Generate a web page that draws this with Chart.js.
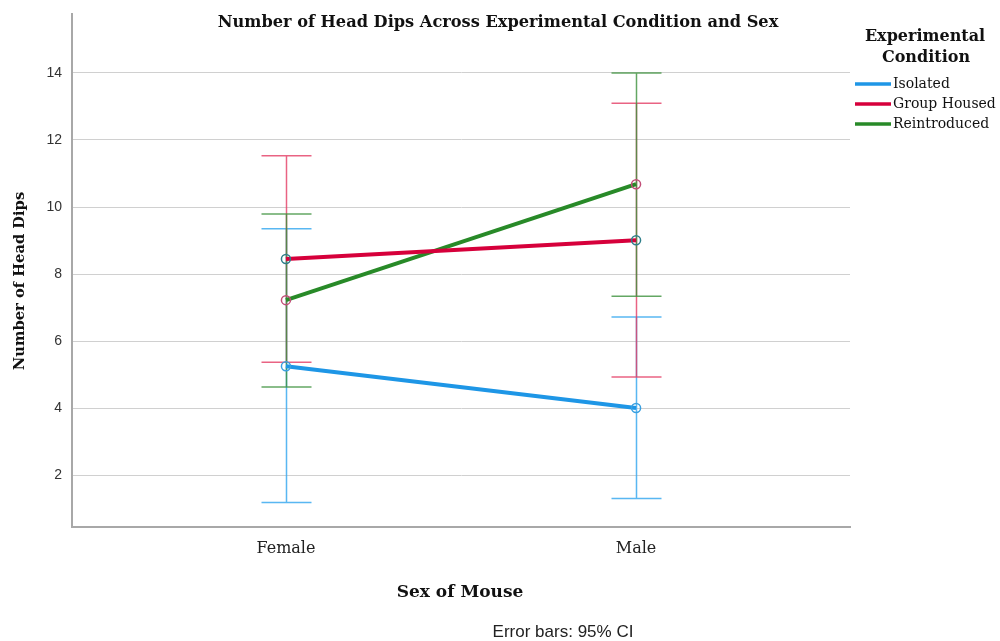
<!DOCTYPE html>
<html>
<head>
<meta charset="utf-8">
<script src="https://cdn.jsdelivr.net/npm/chart.js@4"></script>
<style>
html,body{margin:0;padding:0;background:#fff;}
canvas{display:block;}
</style>
</head>
<body>
<canvas id="c" width="1000" height="641"></canvas>
<script>
const categories = ['Female', 'Male'];
const seriesNames = ['Isolated', 'Group Housed', 'Reintroduced'];
const isolatedMean = [5.25, 4.0];
const isolatedLow = [1.18, 1.30];
const isolatedHigh = [9.35, 6.72];
const groupMean = [8.45, 9.01];
const groupLow = [5.37, 4.93];
const groupHigh = [11.53, 13.10];
const reintroMean = [7.22, 10.68];
const reintroLow = [4.63, 7.34];
const reintroHigh = [9.79, 14.0];
const yTicks = [2, 4, 6, 8, 10, 12, 14];

const lineColors = ['#1e96e6', '#d6003b', '#288a28'];
const barColors = ['rgba(60,170,240,0.85)', 'rgba(228,60,100,0.8)', 'rgba(60,145,60,0.8)'];
const markerColors = ['#3aa0e0', '#2f7f8a', '#c24e78'];

const means = [isolatedMean, groupMean, reintroMean];
const lows = [isolatedLow, groupLow, reintroLow];
const highs = [isolatedHigh, groupHigh, reintroHigh];

const datasets = seriesNames.map((name, s) => ({
  label: name,
  data: categories.map((c, i) => ({x: i, y: means[s][i]})),
  borderColor: lineColors[s],
  borderWidth: 4,
  pointRadius: 4.5,
  pointBorderWidth: 1.5,
  pointBorderColor: markerColors[s],
  pointBackgroundColor: 'rgba(255,255,255,0)',
  tension: 0,
  fill: false
}));

const errorBars = {
  id: 'errorBars',
  beforeDatasetsDraw(chart) {
    const ctx = chart.ctx, xs = chart.scales.x, ys = chart.scales.y;
    ctx.save();
    for (let s = 0; s < seriesNames.length; s++) {
      ctx.strokeStyle = barColors[s];
      ctx.lineWidth = 1.5;
      for (let i = 0; i < categories.length; i++) {
        const x = Math.round(xs.getPixelForValue(i)) + 0.5;
        const yl = ys.getPixelForValue(lows[s][i]);
        const yh = ys.getPixelForValue(highs[s][i]);
        ctx.beginPath();
        ctx.moveTo(x, yl); ctx.lineTo(x, yh);
        ctx.moveTo(x - 25, yl); ctx.lineTo(x + 25, yl);
        ctx.moveTo(x - 25, yh); ctx.lineTo(x + 25, yh);
        ctx.stroke();
      }
    }
    ctx.restore();
  }
};

const texts = {
  id: 'texts',
  afterDraw(chart) {
    const ctx = chart.ctx;
    ctx.save();
    ctx.fillStyle = '#111';
    ctx.textAlign = 'center';
    ctx.textBaseline = 'alphabetic';
    ctx.font = 'bold 16.2px "DejaVu Serif"';
    ctx.fillText('Number of Head Dips Across Experimental Condition and Sex', 498, 27);
    ctx.font = 'bold 17px "DejaVu Serif"';
    ctx.fillText('Sex of Mouse', 460, 597);
    ctx.save();
    ctx.translate(24, 281);
    ctx.rotate(-Math.PI / 2);
    ctx.font = 'bold 14.7px "DejaVu Serif"';
    ctx.fillText('Number of Head Dips', 0, 0);
    ctx.restore();
    ctx.font = 'bold 16px "DejaVu Serif"';
    ctx.fillText('Experimental', 925, 41);
    ctx.fillText('Condition', 926, 62);
    ctx.textAlign = 'left';
    ctx.textBaseline = 'middle';
    ctx.font = '14px "DejaVu Serif"';
    seriesNames.forEach((n, s) => {
      const y = 84 + s * 20;
      ctx.strokeStyle = lineColors[s];
      ctx.lineWidth = 3.5;
      ctx.beginPath();
      ctx.moveTo(855, y); ctx.lineTo(891, y);
      ctx.stroke();
      ctx.fillStyle = '#111';
      ctx.fillText(n, 893, y);
    });
    ctx.textAlign = 'center';
    ctx.textBaseline = 'alphabetic';
    ctx.font = '17px "Liberation Sans"';
    ctx.fillStyle = '#222';
    ctx.fillText('Error bars: 95% CI', 563, 637);
    ctx.restore();
  }
};

new Chart(document.getElementById('c'), {
  type: 'line',
  data: {datasets},
  options: {
    responsive: false,
    animation: false,
    layout: {padding: {top: 14, right: 150, bottom: 0, left: 0}},
    plugins: {legend: {display: false}, title: {display: false}, tooltip: {enabled: false}},
    scales: {
      x: {
        type: 'linear',
        min: -0.611,
        max: 1.611,
        afterBuildTicks: (axis) => { axis.ticks = categories.map((c, i) => ({value: i})); },
        afterFit: (scale) => { scale.height = 114; scale.paddingLeft = 0; scale.paddingRight = 0; },
        grid: {display: false, drawTicks: false},
        border: {display: true, color: '#a8a8a8', width: 2},
        ticks: {
          autoSkip: false,
          maxRotation: 0,
          padding: 12,
          color: '#222',
          font: {family: 'DejaVu Serif', size: 16},
          callback: (v) => categories[v]
        }
      },
      y: {
        type: 'linear',
        min: 0.45,
        max: 15.76,
        afterBuildTicks: (axis) => { axis.ticks = yTicks.map(v => ({value: v})); },
        afterFit: (scale) => { scale.width = 72; scale.paddingTop = 0; scale.paddingBottom = 0; },
        grid: {color: '#d0d0d0', lineWidth: 1, drawTicks: false},
        border: {display: true, color: '#a8a8a8', width: 2},
        ticks: {
          padding: 10,
          color: '#333',
          font: {family: 'Liberation Sans', size: 14}
        }
      }
    }
  },
  plugins: [errorBars, texts]
});
</script>
</body>
</html>
